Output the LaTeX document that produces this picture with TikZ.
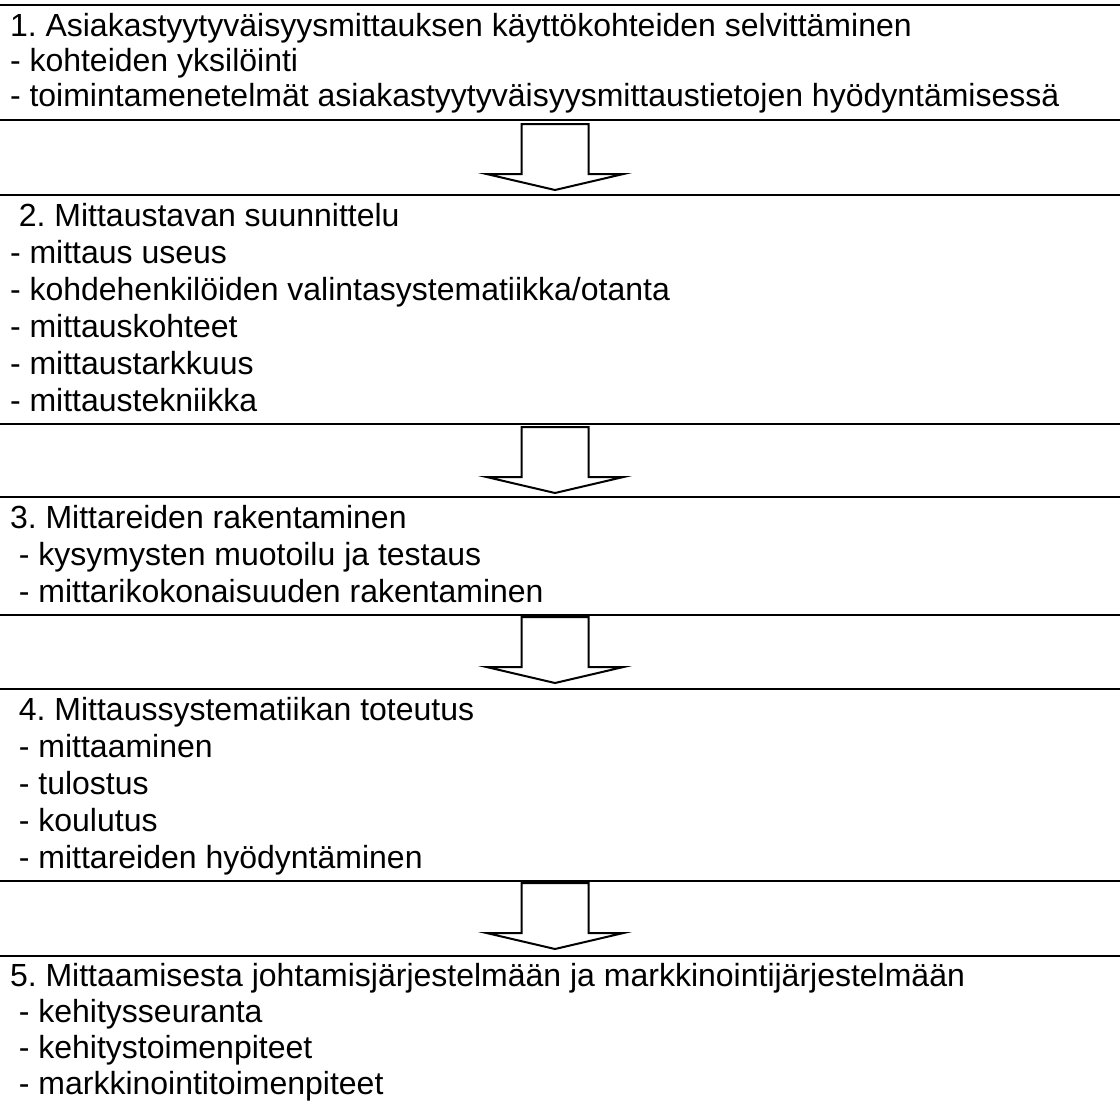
\documentclass[tikz,border=0pt]{standalone}
\usepackage{fontspec}
\setmainfont{Liberation Sans}
\frenchspacing
\begin{document}
\begin{tikzpicture}[x=1pt,y=-1pt,
  txt/.style={anchor=base west,inner sep=0pt,outer sep=0pt,
              font=\fontsize{32}{37}\selectfont},
  rule/.style={line width=2.8pt},
  pics/blockarrow/.style={code={
    \draw[line width=2pt,line join=miter]
      (-33.5,0) -- (33.5,0) -- (33.5,50) -- (68.5,50) -- (0,66)
      -- (-68.5,50) -- (-33.5,50) -- cycle;}}]
\useasboundingbox[fill=white] (0,0) rectangle (1120,1119);

% separating rules
\foreach \yy in {5,120,195,424,497,615,689,881,956}
  \draw[rule] (0,\yy) -- (1120,\yy);

% step 1
\node[txt] (s1a) at (10,36)  {1. Asiakastyytyväisyysmittauksen käyttökohteiden selvittäminen};
\node[txt] (s1b) at (10,71)  {- kohteiden yksilöinti};
\node[txt] (s1c) at (10,106) {- toimintamenetelmät asiakastyytyväisyysmittaustietojen hyödyntämisessä};

% step 2
\node[txt] (s2a) at (10,226) {\ 2. Mittaustavan suunnittelu};
\node[txt] (s2b) at (10,263) {- mittaus useus};
\node[txt] (s2c) at (10,300) {- kohdehenkilöiden valintasystematiikka/otanta};
\node[txt] (s2d) at (10,337) {- mittauskohteet};
\node[txt] (s2e) at (10,374) {- mittaustarkkuus};
\node[txt] (s2f) at (10,411) {- mittaustekniikka};

% step 3
\node[txt] (s3a) at (10,528) {3. Mittareiden rakentaminen};
\node[txt] (s3b) at (10,565) {\ - kysymysten muotoilu ja testaus};
\node[txt] (s3c) at (10,602) {\ - mittarikokonaisuuden rakentaminen};

% step 4
\node[txt] (s4a) at (10,720) {\ 4. Mittaussystematiikan toteutus};
\node[txt] (s4b) at (10,757) {\ - mittaaminen};
\node[txt] (s4c) at (10,794) {\ - tulostus};
\node[txt] (s4d) at (10,831) {\ - koulutus};
\node[txt] (s4e) at (10,868) {\ - mittareiden hyödyntäminen};

% step 5
\node[txt] (s5a) at (10,986)  {5. Mittaamisesta johtamisjärjestelmään ja markkinointijärjestelmään};
\node[txt] (s5b) at (10,1022) {\ - kehitysseuranta};
\node[txt] (s5c) at (10,1058) {\ - kehitystoimenpiteet};
\node[txt] (s5d) at (10,1094) {\ - markkinointitoimenpiteet};

% block arrows between the steps
\coordinate (a1) at (555,124);
\coordinate (a2) at (555,427);
\coordinate (a3) at (555,617);
\coordinate (a4) at (555,883);
\foreach \c in {a1,a2,a3,a4}
  \pic at (\c) {blockarrow};
\end{tikzpicture}
\end{document}
